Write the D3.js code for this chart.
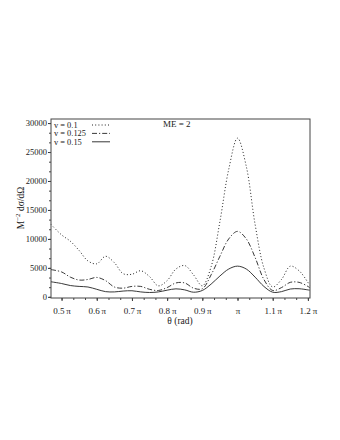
<!DOCTYPE html>
<html>
<head>
<meta charset="utf-8">
<script src="https://cdn.jsdelivr.net/npm/d3@7"></script>
<style>
  body { margin: 0; background: #fff; }
  svg text { font-family: "Liberation Serif", "DejaVu Serif", serif; fill: #222; }
</style>
</head>
<body>
<svg id="chart" width="340" height="440"></svg>
<script>
// θ/π 위치 (가로축)
const thetaPi = [0.47, 0.5, 0.525, 0.55, 0.575, 0.6, 0.625, 0.65, 0.675, 0.7, 0.725, 0.75, 0.775, 0.8,
    0.825, 0.85, 0.875, 0.9, 0.925, 0.95, 0.975, 1.0, 1.025, 1.05, 1.075, 1.1, 1.125, 1.15, 1.175, 1.2, 1.205];

// v = 0.1 (점선)
const v010 = [12500, 10700, 9600, 8000, 6200, 5700, 7000, 5900, 4000, 3900, 4500, 3500, 1900, 2800,
    4800, 5400, 3800, 1900, 5200, 13000, 22000, 27400, 22500, 12500, 5000, 1700, 3000, 5300, 4500, 2500, 2000];

// v = 0.125 (일점쇄선)
const v0125 = [4700, 4300, 3400, 2900, 3000, 3350, 2800, 1700, 1500, 1800, 1800, 1300, 1100, 1600,
    2400, 2400, 1500, 1400, 3800, 7000, 10000, 11300, 10000, 6800, 3000, 1100, 1600, 2500, 2500, 1800, 1600];

// v = 0.15 (실선)
const v015 = [2600, 2300, 1950, 1800, 1700, 1300, 900, 850, 1000, 1050, 850, 750, 850, 1150,
    1380, 1200, 800, 1100, 2200, 3600, 4800, 5300, 4800, 3400, 1800, 800, 900, 1350, 1400, 1200, 1150];

const xTicks = [0.5, 0.6, 0.7, 0.8, 0.9, 1.0, 1.1, 1.2];
const xTickLabels = ['0.5\u2009\u03c0', '0.6\u2009\u03c0', '0.7\u2009\u03c0', '0.8\u2009\u03c0', '0.9\u2009\u03c0', '\u03c0', '1.1\u2009\u03c0', '1.2\u2009\u03c0'];
const yTicks = [0, 5000, 10000, 15000, 20000, 25000, 30000];

const series = [
    { name: 'v = 0.1', values: v010, dash: '1,2.2', width: 1 },
    { name: 'v = 0.125', values: v0125, dash: '5,2,1.2,2', width: 0.9 },
    { name: 'v = 0.15', values: v015, dash: null, width: 0.9 }
];

const svg = d3.select('#chart');
const plotLeft = 51, plotRight = 310, plotTop = 119, plotBottom = 298;

const x = d3.scaleLinear().domain([0.47, 1.206]).range([plotLeft, plotRight]);
const y = d3.scaleLinear().domain([-200, 30700]).range([plotBottom, plotTop]);

// 플롯 테두리
svg.append('rect')
    .attr('x', plotLeft).attr('y', plotTop)
    .attr('width', plotRight - plotLeft).attr('height', plotBottom - plotTop)
    .attr('fill', 'none').attr('stroke', '#444').attr('stroke-width', 1);

// 보조 눈금 (주 눈금 사이 3등분)
const xMinor = d3.range(0.4667, 1.21, 0.1 / 3).filter(t => t >= 0.47 && t <= 1.206);
const yMinor = d3.range(0, 30001, 5000 / 3);

const xAxis = d3.axisBottom(x).tickValues(xTicks).tickSize(3).tickFormat((d, i) => xTickLabels[i]);
const gx = svg.append('g').attr('transform', `translate(0,${plotBottom})`).call(xAxis);
gx.select('.domain').remove();
gx.selectAll('text').attr('font-size', 9).attr('dy', '1.1em');
gx.selectAll('.tick line').attr('stroke', '#333');
svg.append('g').attr('transform', `translate(0,${plotBottom})`)
    .call(d3.axisBottom(x).tickValues(xMinor).tickSize(2).tickFormat(''))
    .call(g => g.select('.domain').remove())
    .selectAll('.tick line').attr('stroke', '#444');

const yAxis = d3.axisLeft(y).tickValues(yTicks).tickSize(3).tickFormat(d3.format('d'));
const gy = svg.append('g').attr('transform', `translate(${plotLeft},0)`).call(yAxis);
gy.select('.domain').remove();
gy.selectAll('text').attr('font-size', 8.5).attr('x', -4);
gy.selectAll('.tick line').attr('stroke', '#333');
svg.append('g').attr('transform', `translate(${plotLeft},0)`)
    .call(d3.axisLeft(y).tickValues(yMinor).tickSize(2).tickFormat(''))
    .call(g => g.select('.domain').remove())
    .selectAll('.tick line').attr('stroke', '#444');

// 곡선
const line = d3.line()
    .x((d, i) => x(thetaPi[i]))
    .y(d => y(d))
    .curve(d3.curveCatmullRom.alpha(0.5));

series.forEach(s => {
    svg.append('path')
        .datum(s.values)
        .attr('d', line)
        .attr('fill', 'none')
        .attr('stroke', '#222')
        .attr('stroke-width', s.width)
        .attr('stroke-dasharray', s.dash);
});

// 범례
const legend = svg.append('g');
series.forEach((s, i) => {
    const ly = 125 + i * 8.4;
    legend.append('text')
        .attr('x', 54).attr('y', ly + 2.8)
        .attr('font-size', 8.4)
        .text(s.name);
    legend.append('line')
        .attr('x1', 92).attr('x2', 110)
        .attr('y1', ly).attr('y2', ly)
        .attr('stroke', '#222')
        .attr('stroke-width', s.width)
        .attr('stroke-dasharray', s.dash);
});

svg.append('text')
    .attr('x', 163).attr('y', 127)
    .attr('font-size', 9)
    .text('ME = 2');

// 축 제목
svg.append('text')
    .attr('x', 180).attr('y', 324)
    .attr('text-anchor', 'middle')
    .attr('font-size', 9.5)
    .text('\u03b8 (rad)');

const yl = svg.append('text')
    .attr('transform', 'translate(24,208) rotate(-90)')
    .attr('text-anchor', 'middle')
    .attr('font-size', 9.5);
yl.append('tspan').text('M');
yl.append('tspan').attr('dy', -4).attr('font-size', 7).text('\u22122');
yl.append('tspan').attr('dy', 4).text(' d\u03c3/d\u03a9');
</script>
</body>
</html>
